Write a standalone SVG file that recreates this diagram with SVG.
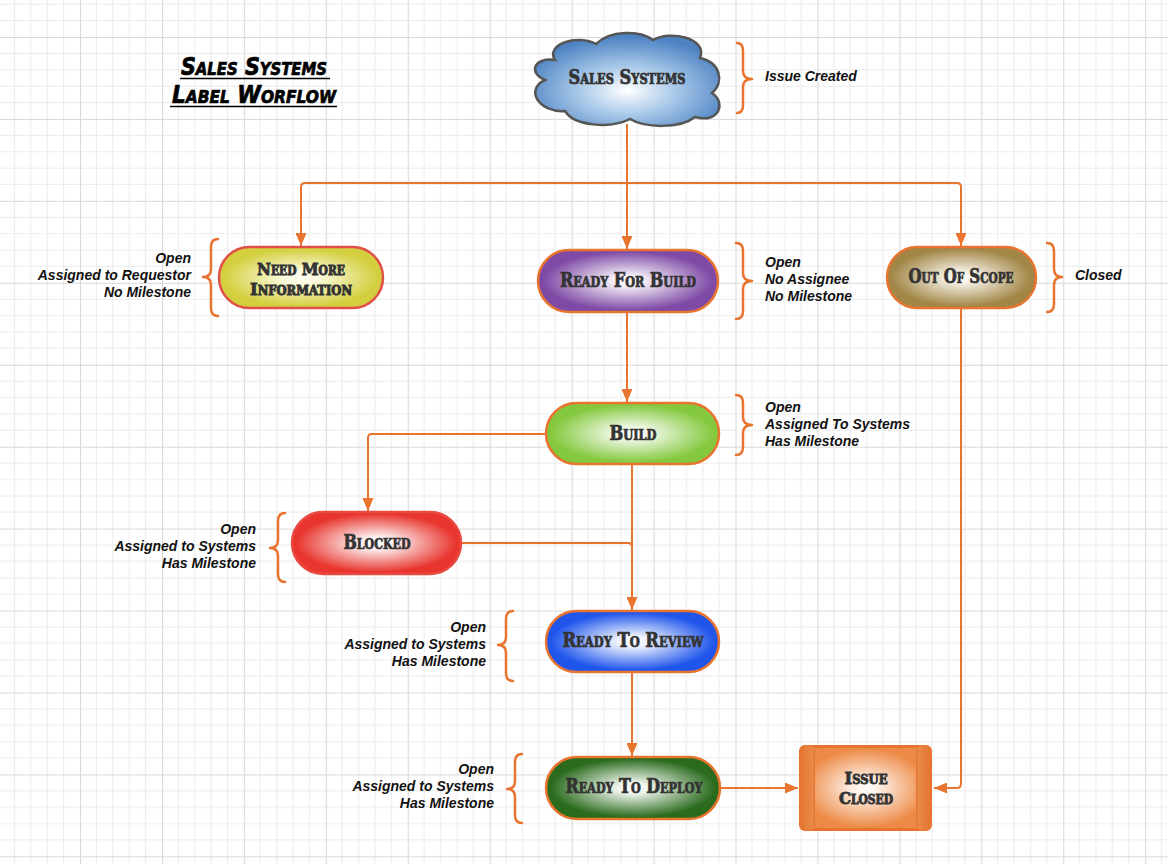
<svg xmlns="http://www.w3.org/2000/svg" width="1168" height="864" viewBox="0 0 1168 864">
  <defs>
    <pattern id="grid" patternUnits="userSpaceOnUse" x="80" y="37" width="81.935" height="81.935">
      <g stroke="#ebebeb" stroke-width="1" fill="none">
        <line x1="16.387" y1="0" x2="16.387" y2="81.935"/>
        <line x1="32.774" y1="0" x2="32.774" y2="81.935"/>
        <line x1="49.161" y1="0" x2="49.161" y2="81.935"/>
        <line x1="65.548" y1="0" x2="65.548" y2="81.935"/>
        <line x1="0" y1="16.387" x2="81.935" y2="16.387"/>
        <line x1="0" y1="32.774" x2="81.935" y2="32.774"/>
        <line x1="0" y1="49.161" x2="81.935" y2="49.161"/>
        <line x1="0" y1="65.548" x2="81.935" y2="65.548"/>
      </g>
      <g stroke="#d9d9d9" stroke-width="1.2" fill="none">
        <line x1="0.5" y1="0" x2="0.5" y2="81.935"/>
        <line x1="0" y1="0.5" x2="81.935" y2="0.5"/>
      </g>
    </pattern>
    <marker id="arrow" markerUnits="userSpaceOnUse" markerWidth="13" markerHeight="11" refX="13" refY="5.5" orient="auto">
      <path d="M0,0 L13,5.5 L0,11 z" fill="#e8742f"/>
    </marker>
    <radialGradient id="gCloud" cx="50%" cy="62%" r="58%">
      <stop offset="0" stop-color="#ffffff"/>
      <stop offset="0.45" stop-color="#a9c9e9"/>
      <stop offset="1" stop-color="#4d83c3"/>
    </radialGradient>
    <radialGradient id="gYellow" cx="50%" cy="50%" r="50%">
      <stop offset="0" stop-color="#fffff4"/>
      <stop offset="0.22" stop-color="#fbfadc"/>
      <stop offset="0.95" stop-color="#d3cf3f"/>
    </radialGradient>
    <radialGradient id="gPurple" cx="50%" cy="50%" r="50%">
      <stop offset="0" stop-color="#ffffff"/>
      <stop offset="0.18" stop-color="#f4eef7"/>
      <stop offset="0.95" stop-color="#7e4aa6"/>
    </radialGradient>
    <radialGradient id="gBrown" cx="50%" cy="50%" r="50%">
      <stop offset="0" stop-color="#ffffff"/>
      <stop offset="0.18" stop-color="#f7f2e8"/>
      <stop offset="0.95" stop-color="#a18646"/>
    </radialGradient>
    <radialGradient id="gGreen" cx="50%" cy="50%" r="50%">
      <stop offset="0" stop-color="#ffffff"/>
      <stop offset="0.18" stop-color="#f2faea"/>
      <stop offset="0.95" stop-color="#84c83e"/>
    </radialGradient>
    <radialGradient id="gRed" cx="50%" cy="50%" r="50%">
      <stop offset="0" stop-color="#ffffff"/>
      <stop offset="0.2" stop-color="#fdf0f0"/>
      <stop offset="0.95" stop-color="#e8352e"/>
    </radialGradient>
    <radialGradient id="gBlue" cx="50%" cy="50%" r="50%">
      <stop offset="0" stop-color="#ffffff"/>
      <stop offset="0.18" stop-color="#eef2fe"/>
      <stop offset="0.95" stop-color="#1f55eb"/>
    </radialGradient>
    <radialGradient id="gDkGreen" cx="50%" cy="50%" r="50%">
      <stop offset="0" stop-color="#ffffff"/>
      <stop offset="0.18" stop-color="#eef5ec"/>
      <stop offset="0.95" stop-color="#2b6b1e"/>
    </radialGradient>
    <radialGradient id="gOrange" cx="50%" cy="50%" r="55%">
      <stop offset="0" stop-color="#ffffff"/>
      <stop offset="0.2" stop-color="#fdeee2"/>
      <stop offset="0.9" stop-color="#ed8a46"/>
    </radialGradient>
    <linearGradient id="gBandL" x1="0" y1="0" x2="1" y2="0">
      <stop offset="0" stop-color="#e4752f"/>
      <stop offset="0.85" stop-color="#e98a4a"/>
      <stop offset="1" stop-color="#e2722c"/>
    </linearGradient>
    <linearGradient id="gBandR" x1="1" y1="0" x2="0" y2="0">
      <stop offset="0" stop-color="#e4752f"/>
      <stop offset="0.85" stop-color="#e98a4a"/>
      <stop offset="1" stop-color="#e2722c"/>
    </linearGradient>
    <style>
      .conn { fill: none; stroke: #e8742f; stroke-width: 2; }
      .brace { fill: none; stroke: #e8742f; stroke-width: 2.5; stroke-linecap: round; stroke-linejoin: round; }
      .node { stroke: #e8742f; stroke-width: 2.5; }
      .ntext { font-family: "DejaVu Serif Condensed", "DejaVu Serif", serif; font-weight: bold; font-variant: small-caps; font-size: 20px; fill: #333333; stroke: #333333; stroke-width: 0.7; text-anchor: middle; }
      .two { font-size: 17px; stroke-width: 0.8; }
      .label { font-family: "Liberation Sans", Arial, sans-serif; font-weight: bold; font-style: italic; font-size: 14px; fill: #111111; }
      .right { text-anchor: end; }
      .title { font-family: "DejaVu Sans Condensed", "DejaVu Sans", sans-serif; font-weight: bold; font-style: italic; font-variant: small-caps; font-size: 25px; fill: #000000; stroke: #000000; stroke-width: 0.7; }
    </style>
  </defs>

  <rect x="0" y="0" width="1168" height="864" fill="#ffffff"/>
  <rect x="0" y="0" width="1168" height="864" fill="url(#grid)"/>

  <g id="title">
    <text class="title" x="181" y="75" textLength="146" lengthAdjust="spacingAndGlyphs">Sales Systems</text>
    <line x1="180" y1="78.5" x2="330" y2="78.5" stroke="#000" stroke-width="1.6"/>
    <text class="title" x="172" y="103" textLength="164" lengthAdjust="spacingAndGlyphs">Label Worflow</text>
    <line x1="170" y1="106.5" x2="337" y2="106.5" stroke="#000" stroke-width="1.6"/>
  </g>

  <g id="connectors">
    <path class="conn" d="M627,124 L627,249" marker-end="url(#arrow)"/>
    <path class="conn" d="M627,183 L305,183 Q301,183 301,187 L301,246" marker-end="url(#arrow)"/>
    <path class="conn" d="M627,183 L957,183 Q961,183 961,187 L961,246" marker-end="url(#arrow)"/>
    <path class="conn" d="M627,312 L627,402" marker-end="url(#arrow)"/>
    <path class="conn" d="M546,434 L372,434 Q368,434 368,438 L368,511" marker-end="url(#arrow)"/>
    <path class="conn" d="M632,464 L632,610" marker-end="url(#arrow)"/>
    <path class="conn" d="M461,543 L628,543 Q632,543 632,547"/>
    <path class="conn" d="M632,672 L632,756" marker-end="url(#arrow)"/>
    <path class="conn" d="M720,788 L798,788" marker-end="url(#arrow)"/>
    <path class="conn" d="M961,308 L961,784 Q961,788 957,788 L934,788" marker-end="url(#arrow)"/>
  </g>

  <g id="sales-systems">
    <path d="M555,60 C545,44 578,34 596,44 C610,30 640,30 653,40 C670,30 708,38 700,58 C720,62 725,82 712,93 C726,102 720,124 695,117 C680,129 645,128 630,119 C610,129 574,126 565,111 C540,113 524,90 545,80 C527,72 535,57 555,60 Z" fill="url(#gCloud)" stroke="#555555" stroke-width="2.5"/>
    <text class="ntext" x="627" y="84" textLength="117" lengthAdjust="spacingAndGlyphs">Sales Systems</text>
  </g>
  <g id="sales-systems-note">
    <path class="brace" d="M737,43 Q743,43 743,51 L743,71 Q743,79 752,79 Q743,79 743,87 L743,105 Q743,113 737,113"/>
    <text class="label" x="765" y="81">Issue Created</text>
  </g>

  <g id="need-more-information">
    <rect x="219" y="247" width="164" height="61" rx="30.5" fill="url(#gYellow)" stroke="#e05048" stroke-width="2.5"/>
    <text class="ntext two" x="301" y="275" textLength="88" lengthAdjust="spacingAndGlyphs">Need More</text>
    <text class="ntext two" x="301" y="295" textLength="102" lengthAdjust="spacingAndGlyphs">Information</text>
  </g>
  <g id="need-more-information-note">
    <path class="brace" d="M218,239 Q211,239 211,247 L211,269 Q211,277 203,277 Q211,277 211,285 L211,308 Q211,316 218,316"/>
    <text class="label right" x="191" y="263">Open</text>
    <text class="label right" x="191" y="280">Assigned to Requestor</text>
    <text class="label right" x="191" y="297">No Milestone</text>
  </g>

  <g id="ready-for-build">
    <rect class="node" x="538" y="250" width="180" height="62" rx="31" fill="url(#gPurple)"/>
    <text class="ntext" x="628" y="287" textLength="136" lengthAdjust="spacingAndGlyphs">Ready For Build</text>
  </g>
  <g id="ready-for-build-note">
    <path class="brace" d="M736,243 Q743,243 743,251 L743,273 Q743,281 752,281 Q743,281 743,289 L743,311 Q743,319 736,319"/>
    <text class="label" x="765" y="267">Open</text>
    <text class="label" x="765" y="284">No Assignee</text>
    <text class="label" x="765" y="301">No Milestone</text>
  </g>

  <g id="out-of-scope">
    <rect class="node" x="887" y="247" width="149" height="61" rx="30.5" fill="url(#gBrown)"/>
    <text class="ntext" x="961" y="283" textLength="105" lengthAdjust="spacingAndGlyphs">Out Of Scope</text>
  </g>
  <g id="out-of-scope-note">
    <path class="brace" d="M1047,243 Q1054,243 1054,251 L1054,269 Q1054,277 1062,277 Q1054,277 1054,285 L1054,304 Q1054,312 1047,312"/>
    <text class="label" x="1075" y="280">Closed</text>
  </g>

  <g id="build">
    <rect class="node" x="546" y="403" width="173" height="61" rx="30.5" fill="url(#gGreen)"/>
    <text class="ntext" x="633" y="440" textLength="47" lengthAdjust="spacingAndGlyphs">Build</text>
  </g>
  <g id="build-note">
    <path class="brace" d="M736,395 Q743,395 743,403 L743,417 Q743,425 752,425 Q743,425 743,433 L743,447 Q743,455 736,455"/>
    <text class="label" x="765" y="412">Open</text>
    <text class="label" x="765" y="429">Assigned To Systems</text>
    <text class="label" x="765" y="446">Has Milestone</text>
  </g>

  <g id="blocked">
    <rect x="292" y="512" width="169" height="62" rx="31" fill="url(#gRed)" stroke="#e84a42" stroke-width="2.5"/>
    <text class="ntext" x="377" y="549" textLength="67" lengthAdjust="spacingAndGlyphs">Blocked</text>
  </g>
  <g id="blocked-note">
    <path class="brace" d="M285,513 Q278,513 278,521 L278,540 Q278,548 270,548 Q278,548 278,556 L278,574 Q278,582 285,582"/>
    <text class="label right" x="256" y="534">Open</text>
    <text class="label right" x="256" y="551">Assigned to Systems</text>
    <text class="label right" x="256" y="568">Has Milestone</text>
  </g>

  <g id="ready-to-review">
    <rect class="node" x="546" y="611" width="173" height="61" rx="30.5" fill="url(#gBlue)"/>
    <text class="ntext" x="633" y="647" textLength="141" lengthAdjust="spacingAndGlyphs">Ready To Review</text>
  </g>
  <g id="ready-to-review-note">
    <path class="brace" d="M513,611 Q506,611 506,619 L506,637 Q506,645 498,645 Q506,645 506,653 L506,673 Q506,681 513,681"/>
    <text class="label right" x="486" y="632">Open</text>
    <text class="label right" x="486" y="649">Assigned to Systems</text>
    <text class="label right" x="486" y="666">Has Milestone</text>
  </g>

  <g id="ready-to-deploy">
    <rect class="node" x="546" y="757" width="174" height="62" rx="31" fill="url(#gDkGreen)"/>
    <text class="ntext" x="634" y="793" textLength="137" lengthAdjust="spacingAndGlyphs">Ready To Deploy</text>
  </g>
  <g id="ready-to-deploy-note">
    <path class="brace" d="M522,754 Q515,754 515,762 L515,781 Q515,789 507,789 Q515,789 515,797 L515,815 Q515,823 522,823"/>
    <text class="label right" x="494" y="774">Open</text>
    <text class="label right" x="494" y="791">Assigned to Systems</text>
    <text class="label right" x="494" y="808">Has Milestone</text>
  </g>

  <g id="issue-closed">
    <rect x="799" y="745" width="133" height="86" rx="6" fill="#e8742f"/>
    <rect x="802" y="748" width="127" height="80" rx="4" fill="url(#gOrange)"/>
    <rect x="800" y="746" width="15" height="84" rx="5" fill="url(#gBandL)"/>
    <rect x="916" y="746" width="15" height="84" rx="5" fill="url(#gBandR)"/>
    <text class="ntext two" x="866" y="784" textLength="43" lengthAdjust="spacingAndGlyphs">Issue</text>
    <text class="ntext two" x="866" y="804" textLength="54" lengthAdjust="spacingAndGlyphs">Closed</text>
  </g>
</svg>
